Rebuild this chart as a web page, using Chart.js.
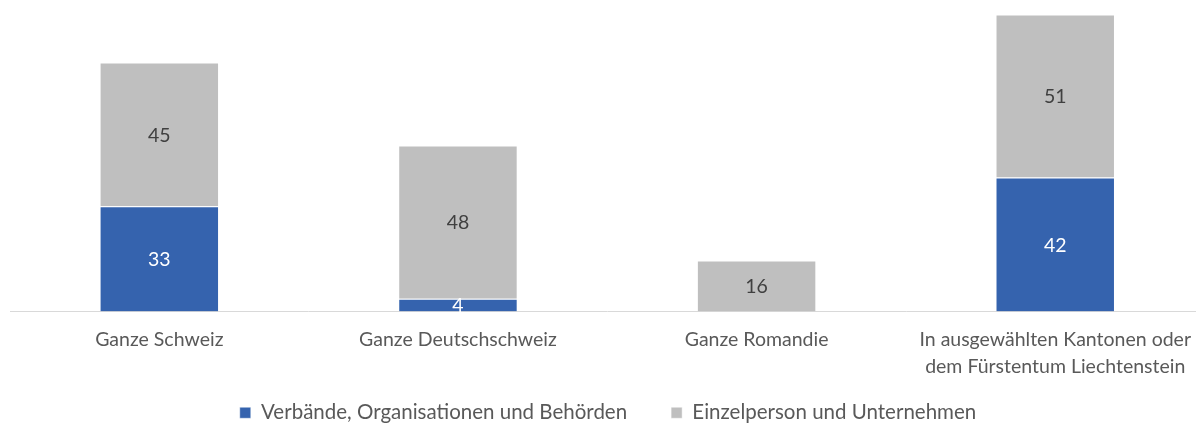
<!DOCTYPE html>
<html>
<head>
<meta charset="utf-8">
<script src="https://cdn.jsdelivr.net/npm/chart.js@4"></script>
<style>
  html, body { margin: 0; padding: 0; overflow: hidden; background: #ffffff; width: 1196px; height: 423px; }
  #wrap { position: relative; width: 1206px; height: 466px; }
</style>
</head>
<body>
<div id="wrap"><canvas id="c" width="1206" height="466"></canvas></div>
<script>
const categories = [
  "Ganze Schweiz",
  "Ganze Deutschschweiz",
  "Ganze Romandie",
  ["In ausgewählten Kantonen oder", "dem Fürstentum Liechtenstein"]
];
const seriesNames = ["Verbände, Organisationen und Behörden", "Einzelperson und Unternehmen"];
const verbaende = [33, 4, 0, 42];
const einzelperson = [45, 48, 16, 51];

const FONT = "Lato";
const BLUE = "#3563AE";
const GRAY = "#BFBFBF";

const valueLabels = {
  id: "valueLabels",
  afterDatasetsDraw(chart) {
    const ctx = chart.ctx;
    ctx.save();
    ctx.font = "19.5px " + FONT;
    ctx.textAlign = "center";
    ctx.textBaseline = "middle";
    chart.data.datasets.forEach((ds, di) => {
      const meta = chart.getDatasetMeta(di);
      meta.data.forEach((el, i) => {
        const v = ds.data[i];
        if (!v) return;
        ctx.fillStyle = di === 0 ? "#ffffff" : "#404040";
        ctx.fillText(String(v), el.x, (el.y + el.base) / 2 + 1);
      });
    });
    ctx.restore();
  }
};

// pull the legend up closer to the axis labels (the wide legend padding is only for horizontal spacing)
const legendShift = {
  id: "legendShift",
  afterLayout(chart) {
    if (chart.legend) {
      chart.legend.top -= 33;
      chart.legend.bottom -= 33;
    }
  }
};

new Chart(document.getElementById("c"), {
  type: "bar",
  data: {
    labels: categories,
    datasets: [
      { label: seriesNames[0], data: verbaende, backgroundColor: BLUE, borderColor: "rgba(255,255,255,0.45)", borderWidth: 1, borderSkipped: "bottom" },
      { label: seriesNames[1], data: einzelperson, backgroundColor: GRAY, borderColor: "rgba(255,255,255,0.45)", borderWidth: 1, borderSkipped: "bottom" }
    ]
  },
  options: {
    responsive: false,
    animation: false,
    devicePixelRatio: 1,
    layout: { padding: { top: 5, left: 10, right: 0, bottom: 0 } },
    datasets: { bar: { categoryPercentage: 1.0, barPercentage: 0.4 } },
    scales: {
      x: {
        stacked: true,
        grid: { display: false, drawTicks: false },
        border: { display: true, color: "#D9D9D9", width: 1 },
        ticks: { color: "#595959", font: { family: FONT, size: 19.5, lineHeight: 1.36 }, padding: 15, maxRotation: 0, autoSkip: false },
        afterFit(scale) { scale.height = 80; }
      },
      y: {
        stacked: true,
        display: false,
        min: 0,
        max: 96
      }
    },
    plugins: {
      legend: {
        position: "bottom",
        labels: { color: "#595959", font: { family: FONT, size: 20.5 }, boxWidth: 11, boxHeight: 11, padding: 44 }
      },
      tooltip: { enabled: false }
    }
  },
  plugins: [valueLabels, legendShift]
});
</script>
</body>
</html>
